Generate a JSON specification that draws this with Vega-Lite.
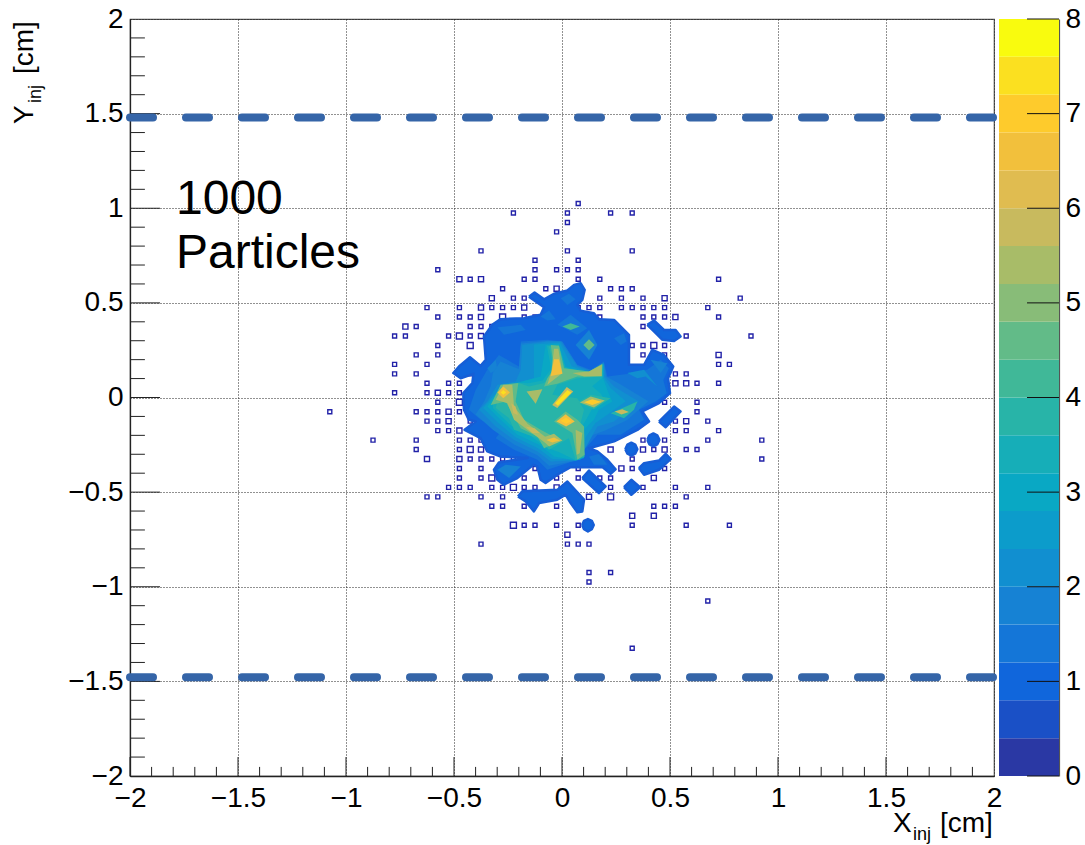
{"$schema":"https://vega.github.io/schema/vega-lite/v6.json","padding":{"left":10,"top":4,"right":0,"bottom":0},"background":"white","spacing":5,"bounds":"flush","config":{"font":"Liberation Sans","view":{"stroke":"#555","strokeWidth":1.2}},
"datasets":{
"xticks":[{"x":-2,"y":-2,"y2":-1.9},{"x":-1.9,"y":-2,"y2":-1.952},{"x":-1.8,"y":-2,"y2":-1.952},{"x":-1.7,"y":-2,"y2":-1.952},{"x":-1.6,"y":-2,"y2":-1.952},{"x":-1.5,"y":-2,"y2":-1.9},{"x":-1.4,"y":-2,"y2":-1.952},{"x":-1.3,"y":-2,"y2":-1.952},{"x":-1.2,"y":-2,"y2":-1.952},{"x":-1.1,"y":-2,"y2":-1.952},{"x":-1,"y":-2,"y2":-1.9},{"x":-0.9,"y":-2,"y2":-1.952},{"x":-0.8,"y":-2,"y2":-1.952},{"x":-0.7,"y":-2,"y2":-1.952},{"x":-0.6,"y":-2,"y2":-1.952},{"x":-0.5,"y":-2,"y2":-1.9},{"x":-0.4,"y":-2,"y2":-1.952},{"x":-0.3,"y":-2,"y2":-1.952},{"x":-0.2,"y":-2,"y2":-1.952},{"x":-0.1,"y":-2,"y2":-1.952},{"x":0,"y":-2,"y2":-1.9},{"x":0.1,"y":-2,"y2":-1.952},{"x":0.2,"y":-2,"y2":-1.952},{"x":0.3,"y":-2,"y2":-1.952},{"x":0.4,"y":-2,"y2":-1.952},{"x":0.5,"y":-2,"y2":-1.9},{"x":0.6,"y":-2,"y2":-1.952},{"x":0.7,"y":-2,"y2":-1.952},{"x":0.8,"y":-2,"y2":-1.952},{"x":0.9,"y":-2,"y2":-1.952},{"x":1,"y":-2,"y2":-1.9},{"x":1.1,"y":-2,"y2":-1.952},{"x":1.2,"y":-2,"y2":-1.952},{"x":1.3,"y":-2,"y2":-1.952},{"x":1.4,"y":-2,"y2":-1.952},{"x":1.5,"y":-2,"y2":-1.9},{"x":1.6,"y":-2,"y2":-1.952},{"x":1.7,"y":-2,"y2":-1.952},{"x":1.8,"y":-2,"y2":-1.952},{"x":1.9,"y":-2,"y2":-1.952}],
"yticks":[{"y":-1.9,"x":-2,"x2":-1.931},{"y":-1.8,"x":-2,"x2":-1.931},{"y":-1.7,"x":-2,"x2":-1.931},{"y":-1.6,"x":-2,"x2":-1.931},{"y":-1.5,"x":-2,"x2":-1.861},{"y":-1.4,"x":-2,"x2":-1.931},{"y":-1.3,"x":-2,"x2":-1.931},{"y":-1.2,"x":-2,"x2":-1.931},{"y":-1.1,"x":-2,"x2":-1.931},{"y":-1,"x":-2,"x2":-1.861},{"y":-0.9,"x":-2,"x2":-1.931},{"y":-0.8,"x":-2,"x2":-1.931},{"y":-0.7,"x":-2,"x2":-1.931},{"y":-0.6,"x":-2,"x2":-1.931},{"y":-0.5,"x":-2,"x2":-1.861},{"y":-0.4,"x":-2,"x2":-1.931},{"y":-0.3,"x":-2,"x2":-1.931},{"y":-0.2,"x":-2,"x2":-1.931},{"y":-0.1,"x":-2,"x2":-1.931},{"y":0,"x":-2,"x2":-1.861},{"y":0.1,"x":-2,"x2":-1.931},{"y":0.2,"x":-2,"x2":-1.931},{"y":0.3,"x":-2,"x2":-1.931},{"y":0.4,"x":-2,"x2":-1.931},{"y":0.5,"x":-2,"x2":-1.861},{"y":0.6,"x":-2,"x2":-1.931},{"y":0.7,"x":-2,"x2":-1.931},{"y":0.8,"x":-2,"x2":-1.931},{"y":0.9,"x":-2,"x2":-1.931},{"y":1,"x":-2,"x2":-1.861},{"y":1.1,"x":-2,"x2":-1.931},{"y":1.2,"x":-2,"x2":-1.931},{"y":1.3,"x":-2,"x2":-1.931},{"y":1.4,"x":-2,"x2":-1.931},{"y":1.5,"x":-2,"x2":-1.861},{"y":1.6,"x":-2,"x2":-1.931},{"y":1.7,"x":-2,"x2":-1.931},{"y":1.8,"x":-2,"x2":-1.931},{"y":1.9,"x":-2,"x2":-1.931}],
"boxes":[
{"x":0.075,"y":1.025,"n":1},{"x":-0.225,"y":0.975,"n":1},{"x":0.025,"y":0.975,"n":1},{"x":0.225,"y":0.975,"n":1},{"x":0.325,"y":0.975,"n":1},{"x":0.025,"y":0.925,"n":1},{"x":-0.025,"y":0.875,"n":1},{"x":-0.375,"y":0.775,"n":1},{"x":0.025,"y":0.775,"n":1},{"x":0.325,"y":0.775,"n":1},{"x":-0.125,"y":0.725,"n":1},{"x":0.075,"y":0.725,"n":1},
{"x":-0.575,"y":0.675,"n":1},{"x":-0.125,"y":0.675,"n":1},{"x":-0.025,"y":0.675,"n":1},{"x":0.025,"y":0.675,"n":1},{"x":0.075,"y":0.675,"n":1},
{"x":-0.475,"y":0.625,"n":2},{"x":-0.425,"y":0.625,"n":1},{"x":-0.375,"y":0.625,"n":2},{"x":-0.175,"y":0.625,"n":1},{"x":-0.125,"y":0.625,"n":1},{"x":0.075,"y":0.625,"n":1},{"x":0.175,"y":0.625,"n":1},{"x":0.725,"y":0.625,"n":1},
{"x":-0.275,"y":0.575,"n":1},{"x":-0.075,"y":0.575,"n":1},{"x":-0.025,"y":0.575,"n":2},{"x":0.225,"y":0.575,"n":1},{"x":0.275,"y":0.575,"n":1},{"x":0.325,"y":0.575,"n":1},
{"x":-0.325,"y":0.525,"n":2},{"x":-0.225,"y":0.525,"n":1},{"x":-0.175,"y":0.525,"n":1},{"x":0.175,"y":0.525,"n":1},{"x":0.275,"y":0.525,"n":1},{"x":0.375,"y":0.525,"n":1},{"x":0.475,"y":0.525,"n":2},{"x":0.825,"y":0.525,"n":1},
{"x":-0.625,"y":0.475,"n":1},{"x":-0.475,"y":0.475,"n":1},{"x":-0.375,"y":0.475,"n":2},{"x":-0.325,"y":0.475,"n":1},{"x":-0.275,"y":0.475,"n":1},{"x":-0.225,"y":0.475,"n":1},{"x":-0.175,"y":0.475,"n":2},{"x":0.075,"y":0.475,"n":1},{"x":0.125,"y":0.475,"n":1},{"x":0.175,"y":0.475,"n":1},{"x":0.275,"y":0.475,"n":1},{"x":0.325,"y":0.475,"n":1},{"x":0.375,"y":0.475,"n":1},{"x":0.425,"y":0.475,"n":1},{"x":0.475,"y":0.475,"n":1},{"x":0.675,"y":0.475,"n":1},
{"x":-0.575,"y":0.425,"n":1},{"x":-0.475,"y":0.425,"n":1},{"x":-0.425,"y":0.425,"n":1},{"x":-0.375,"y":0.425,"n":2},{"x":-0.275,"y":0.425,"n":3},{"x":-0.175,"y":0.425,"n":1},{"x":-0.125,"y":0.425,"n":1},{"x":0.175,"y":0.425,"n":1},{"x":0.375,"y":0.425,"n":1},{"x":0.425,"y":0.425,"n":1},{"x":0.475,"y":0.425,"n":1},{"x":0.525,"y":0.425,"n":2},{"x":0.725,"y":0.425,"n":1},
{"x":-0.725,"y":0.375,"n":2},{"x":-0.675,"y":0.375,"n":1},{"x":-0.425,"y":0.375,"n":1},{"x":-0.375,"y":0.375,"n":1},{"x":-0.325,"y":0.375,"n":1},{"x":0.375,"y":0.375,"n":1},
{"x":-0.775,"y":0.325,"n":1},{"x":-0.725,"y":0.325,"n":1},{"x":-0.525,"y":0.325,"n":1},{"x":-0.475,"y":0.325,"n":3},{"x":-0.425,"y":0.325,"n":1},{"x":-0.375,"y":0.325,"n":2},{"x":0.575,"y":0.325,"n":1},{"x":0.875,"y":0.325,"n":1},
{"x":-0.575,"y":0.275,"n":1},{"x":-0.425,"y":0.275,"n":3},{"x":0.325,"y":0.275,"n":1},{"x":0.375,"y":0.275,"n":1},{"x":0.425,"y":0.275,"n":3},{"x":0.475,"y":0.275,"n":1},
{"x":-0.675,"y":0.225,"n":1},{"x":-0.575,"y":0.225,"n":1},{"x":0.375,"y":0.225,"n":1},{"x":0.475,"y":0.225,"n":1},{"x":0.725,"y":0.225,"n":2},
{"x":-0.775,"y":0.175,"n":1},{"x":-0.625,"y":0.175,"n":1},{"x":0.725,"y":0.175,"n":1},{"x":0.775,"y":0.175,"n":1},
{"x":-0.775,"y":0.125,"n":1},{"x":-0.675,"y":0.125,"n":1},{"x":-0.425,"y":0.125,"n":1},{"x":0.525,"y":0.125,"n":1},{"x":0.575,"y":0.125,"n":1},
{"x":-0.625,"y":0.075,"n":1},{"x":-0.525,"y":0.075,"n":1},{"x":-0.475,"y":0.075,"n":1},{"x":0.475,"y":0.075,"n":1},{"x":0.525,"y":0.075,"n":2},{"x":0.575,"y":0.075,"n":2},{"x":0.625,"y":0.075,"n":1},{"x":0.725,"y":0.075,"n":1},
{"x":-0.775,"y":0.025,"n":1},{"x":-0.625,"y":0.025,"n":1},{"x":-0.575,"y":0.025,"n":2},{"x":-0.525,"y":0.025,"n":1},{"x":-0.475,"y":0.025,"n":1},
{"x":-0.575,"y":-0.025,"n":1},{"x":-0.475,"y":-0.025,"n":3},{"x":0.475,"y":-0.025,"n":1},{"x":0.625,"y":-0.025,"n":1},
{"x":-1.075,"y":-0.075,"n":1},{"x":-0.675,"y":-0.075,"n":1},{"x":-0.625,"y":-0.075,"n":1},{"x":-0.575,"y":-0.075,"n":1},{"x":-0.525,"y":-0.075,"n":2},{"x":-0.475,"y":-0.075,"n":1},{"x":0.625,"y":-0.075,"n":1},
{"x":-0.625,"y":-0.125,"n":1},{"x":-0.575,"y":-0.125,"n":1},{"x":-0.525,"y":-0.125,"n":2},{"x":-0.425,"y":-0.125,"n":1},{"x":0.525,"y":-0.125,"n":1},{"x":0.575,"y":-0.125,"n":2},{"x":0.675,"y":-0.125,"n":1},
{"x":-0.575,"y":-0.175,"n":1},{"x":-0.525,"y":-0.175,"n":1},{"x":-0.475,"y":-0.175,"n":2},{"x":0.525,"y":-0.175,"n":1},{"x":0.575,"y":-0.175,"n":1},{"x":0.725,"y":-0.175,"n":1},
{"x":-0.875,"y":-0.225,"n":1},{"x":-0.675,"y":-0.225,"n":1},{"x":-0.475,"y":-0.225,"n":1},{"x":-0.425,"y":-0.225,"n":1},{"x":-0.375,"y":-0.225,"n":1},{"x":0.375,"y":-0.225,"n":1},{"x":0.475,"y":-0.225,"n":1},{"x":0.675,"y":-0.225,"n":1},{"x":0.925,"y":-0.225,"n":1},
{"x":-0.675,"y":-0.275,"n":1},{"x":-0.475,"y":-0.275,"n":1},{"x":-0.425,"y":-0.275,"n":3},{"x":-0.375,"y":-0.275,"n":2},{"x":0.125,"y":-0.275,"n":1},{"x":0.225,"y":-0.275,"n":2},{"x":0.375,"y":-0.275,"n":2},{"x":0.425,"y":-0.275,"n":1},{"x":0.475,"y":-0.275,"n":2},{"x":0.575,"y":-0.275,"n":1},{"x":0.625,"y":-0.275,"n":1},
{"x":-0.625,"y":-0.325,"n":2},{"x":-0.475,"y":-0.325,"n":2},{"x":-0.425,"y":-0.325,"n":1},{"x":-0.375,"y":-0.325,"n":1},{"x":-0.325,"y":-0.325,"n":1},{"x":-0.275,"y":-0.325,"n":1},{"x":-0.225,"y":-0.325,"n":1},{"x":0.325,"y":-0.325,"n":1},{"x":0.925,"y":-0.325,"n":1},
{"x":-0.475,"y":-0.375,"n":1},{"x":-0.375,"y":-0.375,"n":1},{"x":-0.125,"y":-0.375,"n":1},{"x":0.075,"y":-0.375,"n":1},{"x":0.275,"y":-0.375,"n":2},{"x":0.325,"y":-0.375,"n":1},{"x":0.475,"y":-0.375,"n":1},
{"x":-0.475,"y":-0.425,"n":1},{"x":-0.375,"y":-0.425,"n":1},{"x":-0.325,"y":-0.425,"n":3},{"x":-0.175,"y":-0.425,"n":1},{"x":-0.025,"y":-0.425,"n":1},{"x":0.075,"y":-0.425,"n":1},{"x":0.175,"y":-0.425,"n":1},{"x":0.225,"y":-0.425,"n":1},{"x":0.425,"y":-0.425,"n":2},
{"x":-0.525,"y":-0.475,"n":1},{"x":-0.475,"y":-0.475,"n":1},{"x":-0.425,"y":-0.475,"n":1},{"x":-0.325,"y":-0.475,"n":1},{"x":-0.275,"y":-0.475,"n":1},{"x":-0.225,"y":-0.475,"n":3},{"x":-0.175,"y":-0.475,"n":1},{"x":-0.125,"y":-0.475,"n":1},{"x":-0.025,"y":-0.475,"n":2},{"x":0.225,"y":-0.475,"n":1},{"x":0.375,"y":-0.475,"n":1},{"x":0.525,"y":-0.475,"n":1},{"x":0.675,"y":-0.475,"n":1},
{"x":-0.625,"y":-0.525,"n":1},{"x":-0.575,"y":-0.525,"n":1},{"x":-0.375,"y":-0.525,"n":1},{"x":-0.275,"y":-0.525,"n":1},{"x":0.125,"y":-0.525,"n":2},{"x":0.225,"y":-0.525,"n":3},{"x":0.575,"y":-0.525,"n":1},
{"x":-0.325,"y":-0.575,"n":1},{"x":-0.275,"y":-0.575,"n":1},{"x":-0.175,"y":-0.575,"n":1},{"x":-0.025,"y":-0.575,"n":1},{"x":0.425,"y":-0.575,"n":1},{"x":0.475,"y":-0.575,"n":1},{"x":0.525,"y":-0.575,"n":1},
{"x":0.325,"y":-0.625,"n":2},{"x":0.425,"y":-0.625,"n":2},
{"x":-0.225,"y":-0.675,"n":3},{"x":-0.175,"y":-0.675,"n":1},{"x":-0.125,"y":-0.675,"n":1},{"x":-0.025,"y":-0.675,"n":1},{"x":0.075,"y":-0.675,"n":1},{"x":0.325,"y":-0.675,"n":1},{"x":0.575,"y":-0.675,"n":1},{"x":0.775,"y":-0.675,"n":1},
{"x":0.025,"y":-0.725,"n":2},{"x":-0.375,"y":-0.775,"n":1},{"x":0.025,"y":-0.775,"n":1},{"x":0.075,"y":-0.775,"n":1},{"x":0.125,"y":-0.775,"n":1},
{"x":0.125,"y":-0.925,"n":1},{"x":0.225,"y":-0.925,"n":1},{"x":0.125,"y":-0.975,"n":1},{"x":0.675,"y":-1.075,"n":1},{"x":0.325,"y":-1.325,"n":1}],
"sil":[
{"p":1,"x":-0.153,"y":0.533},{"p":1,"x":-0.127,"y":0.555},{"p":1,"x":-0.083,"y":0.519},{"p":1,"x":-0.037,"y":0.548},{"p":1,"x":0.025,"y":0.565},{"p":1,"x":0.056,"y":0.595},{"p":1,"x":0.086,"y":0.604},{"p":1,"x":0.105,"y":0.569},{"p":1,"x":0.094,"y":0.516},{"p":1,"x":0.071,"y":0.489},{"p":1,"x":0.086,"y":0.459},{"p":1,"x":0.148,"y":0.445},{"p":1,"x":0.171,"y":0.414},{"p":1,"x":0.241,"y":0.41},{"p":1,"x":0.31,"y":0.331},{"p":1,"x":0.31,"y":0.173},{"p":1,"x":0.38,"y":0.173},{"p":1,"x":0.418,"y":0.252},{"p":1,"x":0.472,"y":0.225},{"p":1,"x":0.515,"y":0.164},{"p":1,"x":0.491,"y":0.102},{"p":1,"x":0.5,"y":0.023},{"p":1,"x":0.449,"y":-0.03},{"p":1,"x":0.372,"y":-0.074},{"p":1,"x":0.403,"y":-0.127},{"p":1,"x":0.349,"y":-0.171},{"p":1,"x":0.241,"y":-0.232},{"p":1,"x":0.125,"y":-0.268},{"p":1,"x":0.164,"y":-0.285},{"p":1,"x":0.21,"y":-0.329},{"p":1,"x":0.248,"y":-0.379},{"p":1,"x":0.225,"y":-0.403},{"p":1,"x":0.187,"y":-0.368},{"p":1,"x":0.086,"y":-0.368},{"p":1,"x":0.04,"y":-0.368},{"p":1,"x":-0.022,"y":-0.408},{"p":1,"x":-0.076,"y":-0.452},{"p":1,"x":-0.099,"y":-0.435},{"p":1,"x":-0.114,"y":-0.364},{"p":1,"x":-0.133,"y":-0.356},{"p":1,"x":-0.207,"y":-0.426},{"p":1,"x":-0.269,"y":-0.461},{"p":1,"x":-0.299,"y":-0.435},{"p":1,"x":-0.315,"y":-0.382},{"p":1,"x":-0.292,"y":-0.343},{"p":1,"x":-0.16,"y":-0.32},{"p":1,"x":-0.284,"y":-0.312},{"p":1,"x":-0.346,"y":-0.285},{"p":1,"x":-0.377,"y":-0.215},{"p":1,"x":-0.451,"y":-0.171},{"p":1,"x":-0.4,"y":-0.127},{"p":1,"x":-0.431,"y":-0.118},{"p":1,"x":-0.454,"y":-0.065},{"p":1,"x":-0.457,"y":0.023},{"p":1,"x":-0.415,"y":0.076},{"p":1,"x":-0.41,"y":0.125},{"p":1,"x":-0.469,"y":0.102},{"p":1,"x":-0.503,"y":0.129},{"p":1,"x":-0.477,"y":0.164},{"p":1,"x":-0.426,"y":0.213},{"p":1,"x":-0.377,"y":0.167},{"p":1,"x":-0.353,"y":0.199},{"p":1,"x":-0.361,"y":0.322},{"p":1,"x":-0.323,"y":0.384},{"p":1,"x":-0.284,"y":0.414},{"p":1,"x":-0.176,"y":0.419},{"p":1,"x":-0.099,"y":0.437},{"p":1,"x":-0.083,"y":0.477},{"p":1,"x":-0.153,"y":0.533},
{"p":2,"x":0.395,"y":0.384},{"p":2,"x":0.426,"y":0.407},{"p":2,"x":0.472,"y":0.357},{"p":2,"x":0.526,"y":0.357},{"p":2,"x":0.549,"y":0.322},{"p":2,"x":0.519,"y":0.299},{"p":2,"x":0.465,"y":0.305},{"p":2,"x":0.434,"y":0.34},{"p":2,"x":0.395,"y":0.384},
{"p":3,"x":0.449,"y":-0.127},{"p":3,"x":0.519,"y":-0.048},{"p":3,"x":0.549,"y":-0.074},{"p":3,"x":0.48,"y":-0.157},{"p":3,"x":0.449,"y":-0.127},
{"p":4,"x":0.395,"y":-0.224},{"p":4,"x":0.405,"y":-0.2},{"p":4,"x":0.423,"y":-0.19},{"p":4,"x":0.441,"y":-0.2},{"p":4,"x":0.451,"y":-0.224},{"p":4,"x":0.441,"y":-0.248},{"p":4,"x":0.423,"y":-0.258},{"p":4,"x":0.405,"y":-0.248},{"p":4,"x":0.395,"y":-0.224},
{"p":5,"x":0.293,"y":-0.273},{"p":5,"x":0.303,"y":-0.249},{"p":5,"x":0.321,"y":-0.239},{"p":5,"x":0.339,"y":-0.249},{"p":5,"x":0.349,"y":-0.273},{"p":5,"x":0.339,"y":-0.297},{"p":5,"x":0.321,"y":-0.307},{"p":5,"x":0.303,"y":-0.297},{"p":5,"x":0.293,"y":-0.273},
{"p":6,"x":0.356,"y":-0.373},{"p":6,"x":0.38,"y":-0.347},{"p":6,"x":0.449,"y":-0.333},{"p":6,"x":0.48,"y":-0.298},{"p":6,"x":0.503,"y":-0.326},{"p":6,"x":0.449,"y":-0.382},{"p":6,"x":0.38,"y":-0.408},{"p":6,"x":0.356,"y":-0.373},
{"p":7,"x":0.287,"y":-0.474},{"p":7,"x":0.321,"y":-0.435},{"p":7,"x":0.361,"y":-0.474},{"p":7,"x":0.321,"y":-0.514},{"p":7,"x":0.287,"y":-0.474},
{"p":8,"x":0.094,"y":-0.426},{"p":8,"x":0.125,"y":-0.386},{"p":8,"x":0.202,"y":-0.47},{"p":8,"x":0.171,"y":-0.505},{"p":8,"x":0.094,"y":-0.426},
{"p":9,"x":-0.204,"y":-0.523},{"p":9,"x":-0.184,"y":-0.496},{"p":9,"x":-0.022,"y":-0.488},{"p":9,"x":0.025,"y":-0.444},{"p":9,"x":0.102,"y":-0.54},{"p":9,"x":0.094,"y":-0.602},{"p":9,"x":0.071,"y":-0.606},{"p":9,"x":0.04,"y":-0.558},{"p":9,"x":0.017,"y":-0.514},{"p":9,"x":-0.022,"y":-0.54},{"p":9,"x":-0.106,"y":-0.558},{"p":9,"x":-0.13,"y":-0.602},{"p":9,"x":-0.168,"y":-0.549},{"p":9,"x":-0.204,"y":-0.523},
{"p":10,"x":0.093,"y":-0.674},{"p":10,"x":0.102,"y":-0.652},{"p":10,"x":0.12,"y":-0.642},{"p":10,"x":0.138,"y":-0.652},{"p":10,"x":0.147,"y":-0.674},{"p":10,"x":0.138,"y":-0.696},{"p":10,"x":0.12,"y":-0.708},{"p":10,"x":0.102,"y":-0.696},{"p":10,"x":0.093,"y":-0.674}],
"blob":[
{"p":1,"lo":1.2,"x":-0.346,"y":0.146},{"p":1,"lo":1.2,"x":-0.292,"y":0.225},{"p":1,"lo":1.2,"x":-0.199,"y":0.164},{"p":1,"lo":1.2,"x":-0.191,"y":0.296},{"p":1,"lo":1.2,"x":-0.068,"y":0.305},{"p":1,"lo":1.2,"x":0.002,"y":0.296},{"p":1,"lo":1.2,"x":0.071,"y":0.173},{"p":1,"lo":1.2,"x":0.133,"y":0.146},{"p":1,"lo":1.2,"x":0.194,"y":0.19},{"p":1,"lo":1.2,"x":0.21,"y":0.111},{"p":1,"lo":1.2,"x":0.31,"y":0.125},{"p":1,"lo":1.2,"x":0.395,"y":0.146},{"p":1,"lo":1.2,"x":0.457,"y":0.199},{"p":1,"lo":1.2,"x":0.495,"y":0.155},{"p":1,"lo":1.2,"x":0.469,"y":0.093},{"p":1,"lo":1.2,"x":0.485,"y":0.023},{"p":1,"lo":1.2,"x":0.434,"y":-0.021},{"p":1,"lo":1.2,"x":0.356,"y":-0.065},{"p":1,"lo":1.2,"x":0.38,"y":-0.118},{"p":1,"lo":1.2,"x":0.272,"y":-0.197},{"p":1,"lo":1.2,"x":0.164,"y":-0.197},{"p":1,"lo":1.2,"x":0.117,"y":-0.259},{"p":1,"lo":1.2,"x":0.048,"y":-0.338},{"p":1,"lo":1.2,"x":-0.068,"y":-0.382},{"p":1,"lo":1.2,"x":-0.114,"y":-0.329},{"p":1,"lo":1.2,"x":-0.222,"y":-0.276},{"p":1,"lo":1.2,"x":-0.307,"y":-0.215},{"p":1,"lo":1.2,"x":-0.276,"y":-0.171},{"p":1,"lo":1.2,"x":-0.377,"y":-0.118},{"p":1,"lo":1.2,"x":-0.431,"y":-0.065},{"p":1,"lo":1.2,"x":-0.4,"y":0.04},
{"p":2,"lo":1.2,"x":-0.299,"y":0.371},{"p":2,"lo":1.2,"x":-0.191,"y":0.384},{"p":2,"lo":1.2,"x":-0.168,"y":0.357},{"p":2,"lo":1.2,"x":-0.269,"y":0.331},
{"p":3,"lo":1.2,"x":-0.099,"y":0.428},{"p":3,"lo":1.2,"x":-0.06,"y":0.46},{"p":3,"lo":1.2,"x":-0.029,"y":0.414},{"p":3,"lo":1.2,"x":-0.068,"y":0.407},
{"p":4,"lo":1.2,"x":-0.022,"y":0.384},{"p":4,"lo":1.2,"x":0.04,"y":0.437},{"p":4,"lo":1.2,"x":0.117,"y":0.366},{"p":4,"lo":1.2,"x":0.071,"y":0.331},
{"p":5,"lo":4,"x":0.002,"y":0.375},{"p":5,"lo":4,"x":0.04,"y":0.393},{"p":5,"lo":4,"x":0.082,"y":0.375},{"p":5,"lo":4,"x":0.04,"y":0.357},
{"p":6,"lo":1.6,"x":0.063,"y":0.278},{"p":6,"lo":1.6,"x":0.125,"y":0.357},{"p":6,"lo":1.6,"x":0.164,"y":0.278},{"p":6,"lo":1.6,"x":0.125,"y":0.199},
{"p":7,"lo":4.4,"x":0.099,"y":0.278},{"p":7,"lo":4.4,"x":0.125,"y":0.308},{"p":7,"lo":4.4,"x":0.151,"y":0.278},{"p":7,"lo":4.4,"x":0.125,"y":0.248},
{"p":8,"lo":1.2,"x":-0.006,"y":0.525},{"p":8,"lo":1.2,"x":0.032,"y":0.548},{"p":8,"lo":1.2,"x":0.063,"y":0.519},{"p":8,"lo":1.2,"x":0.025,"y":0.489},
{"p":9,"lo":1.2,"x":0.241,"y":0.313},{"p":9,"lo":1.2,"x":0.287,"y":0.34},{"p":9,"lo":1.2,"x":0.299,"y":0.296},{"p":9,"lo":1.2,"x":0.272,"y":0.278},
{"p":10,"lo":1.6,"x":-0.299,"y":-0.382},{"p":10,"lo":1.6,"x":-0.261,"y":-0.356},{"p":10,"lo":1.6,"x":-0.191,"y":-0.364},{"p":10,"lo":1.6,"x":-0.245,"y":-0.426},
{"p":11,"lo":1.6,"x":0.41,"y":0.199},{"p":11,"lo":1.6,"x":0.488,"y":0.181},{"p":11,"lo":1.6,"x":0.457,"y":0.129},
{"p":12,"lo":1.2,"x":0.125,"y":-0.312},{"p":12,"lo":1.2,"x":0.171,"y":-0.298},{"p":12,"lo":1.2,"x":0.21,"y":-0.356},{"p":12,"lo":1.2,"x":0.148,"y":-0.356},
{"p":13,"lo":1.6,"x":-0.346,"y":0.155},{"p":13,"lo":1.6,"x":-0.307,"y":0.199},{"p":13,"lo":1.6,"x":-0.299,"y":0.146},{"p":13,"lo":1.6,"x":-0.33,"y":0.129},
{"p":14,"lo":2,"x":0.302,"y":0.129},{"p":14,"lo":2,"x":0.38,"y":0.146},{"p":14,"lo":2,"x":0.441,"y":0.058},{"p":14,"lo":2,"x":0.387,"y":0.111},{"p":14,"lo":2,"x":0.349,"y":0.102},
{"p":50,"lo":1.6,"x":-0.32,"y":0.13},{"p":50,"lo":1.6,"x":-0.285,"y":0.19},{"p":50,"lo":1.6,"x":-0.2,"y":0.15},{"p":50,"lo":1.6,"x":-0.19,"y":0.285},{"p":50,"lo":1.6,"x":-0.068,"y":0.3},{"p":50,"lo":1.6,"x":0,"y":0.296},{"p":50,"lo":1.6,"x":0.071,"y":0.17},{"p":50,"lo":1.6,"x":0.133,"y":0.142},{"p":50,"lo":1.6,"x":0.194,"y":0.185},{"p":50,"lo":1.6,"x":0.205,"y":0.111},{"p":50,"lo":1.6,"x":0.27,"y":0.07},{"p":50,"lo":1.6,"x":0.4,"y":-0.02},{"p":50,"lo":1.6,"x":0.3,"y":-0.12},{"p":50,"lo":1.6,"x":0.2,"y":-0.175},{"p":50,"lo":1.6,"x":0.14,"y":-0.2},{"p":50,"lo":1.6,"x":0.09,"y":-0.29},{"p":50,"lo":1.6,"x":0.06,"y":-0.335},{"p":50,"lo":1.6,"x":-0.06,"y":-0.36},{"p":50,"lo":1.6,"x":-0.114,"y":-0.305},{"p":50,"lo":1.6,"x":-0.22,"y":-0.25},{"p":50,"lo":1.6,"x":-0.32,"y":-0.17},{"p":50,"lo":1.6,"x":-0.4,"y":-0.09},{"p":50,"lo":1.6,"x":-0.36,"y":-0.02},{"p":50,"lo":1.6,"x":-0.33,"y":0.06},
{"p":15,"lo":2,"x":-0.184,"y":0.278},{"p":15,"lo":2,"x":-0.068,"y":0.296},{"p":15,"lo":2,"x":-0.006,"y":0.296},{"p":15,"lo":2,"x":0.071,"y":0.164},{"p":15,"lo":2,"x":0.133,"y":0.137},{"p":15,"lo":2,"x":0.194,"y":0.181},{"p":15,"lo":2,"x":0.198,"y":0.111},{"p":15,"lo":2,"x":0.241,"y":0.058},{"p":15,"lo":2,"x":0.356,"y":-0.021},{"p":15,"lo":2,"x":0.241,"y":-0.127},{"p":15,"lo":2,"x":0.164,"y":-0.153},{"p":15,"lo":2,"x":0.117,"y":-0.25},{"p":15,"lo":2,"x":0.071,"y":-0.333},{"p":15,"lo":2,"x":-0.052,"y":-0.338},{"p":15,"lo":2,"x":-0.114,"y":-0.285},{"p":15,"lo":2,"x":-0.222,"y":-0.224},{"p":15,"lo":2,"x":-0.307,"y":-0.153},{"p":15,"lo":2,"x":-0.384,"y":-0.065},{"p":15,"lo":2,"x":-0.346,"y":-0.021},{"p":15,"lo":2,"x":-0.299,"y":0.067},{"p":15,"lo":2,"x":-0.215,"y":0.085},{"p":15,"lo":2,"x":-0.191,"y":0.146},
{"p":51,"lo":2.4,"x":-0.13,"y":0.28},{"p":51,"lo":2.4,"x":-0.01,"y":0.29},{"p":51,"lo":2.4,"x":0.045,"y":0.165},{"p":51,"lo":2.4,"x":0.125,"y":0.133},{"p":51,"lo":2.4,"x":0.192,"y":0.177},{"p":51,"lo":2.4,"x":0.195,"y":0.105},{"p":51,"lo":2.4,"x":0.225,"y":0.05},{"p":51,"lo":2.4,"x":0.295,"y":-0.02},{"p":51,"lo":2.4,"x":0.205,"y":-0.095},{"p":51,"lo":2.4,"x":0.155,"y":-0.135},{"p":51,"lo":2.4,"x":0.11,"y":-0.21},{"p":51,"lo":2.4,"x":0.085,"y":-0.33},{"p":51,"lo":2.4,"x":-0.045,"y":-0.325},{"p":51,"lo":2.4,"x":-0.11,"y":-0.27},{"p":51,"lo":2.4,"x":-0.215,"y":-0.21},{"p":51,"lo":2.4,"x":-0.295,"y":-0.135},{"p":51,"lo":2.4,"x":-0.365,"y":-0.056},{"p":51,"lo":2.4,"x":-0.32,"y":0.005},{"p":51,"lo":2.4,"x":-0.25,"y":0.07},{"p":51,"lo":2.4,"x":-0.19,"y":0.085},{"p":51,"lo":2.4,"x":-0.13,"y":0.1},
{"p":16,"lo":2.8,"x":-0.076,"y":0.278},{"p":16,"lo":2.8,"x":-0.014,"y":0.283},{"p":16,"lo":2.8,"x":0.017,"y":0.164},{"p":16,"lo":2.8,"x":0.117,"y":0.129},{"p":16,"lo":2.8,"x":0.191,"y":0.173},{"p":16,"lo":2.8,"x":0.191,"y":0.102},{"p":16,"lo":2.8,"x":0.21,"y":0.04},{"p":16,"lo":2.8,"x":0.233,"y":-0.021},{"p":16,"lo":2.8,"x":0.171,"y":-0.065},{"p":16,"lo":2.8,"x":0.148,"y":-0.118},{"p":16,"lo":2.8,"x":0.102,"y":-0.171},{"p":16,"lo":2.8,"x":0.102,"y":-0.32},{"p":16,"lo":2.8,"x":0.063,"y":-0.333},{"p":16,"lo":2.8,"x":-0.037,"y":-0.312},{"p":16,"lo":2.8,"x":-0.106,"y":-0.25},{"p":16,"lo":2.8,"x":-0.207,"y":-0.197},{"p":16,"lo":2.8,"x":-0.284,"y":-0.118},{"p":16,"lo":2.8,"x":-0.346,"y":-0.048},{"p":16,"lo":2.8,"x":-0.299,"y":0.032},{"p":16,"lo":2.8,"x":-0.207,"y":0.076},{"p":16,"lo":2.8,"x":-0.16,"y":0.093},{"p":16,"lo":2.8,"x":-0.099,"y":0.111},
{"p":52,"lo":3.2,"x":-0.32,"y":-0.035},{"p":52,"lo":3.2,"x":-0.29,"y":0.036},{"p":52,"lo":3.2,"x":-0.2,"y":0.078},{"p":52,"lo":3.2,"x":-0.155,"y":0.075},{"p":52,"lo":3.2,"x":-0.09,"y":0.09},{"p":52,"lo":3.2,"x":-0.05,"y":0.15},{"p":52,"lo":3.2,"x":-0.07,"y":0.274},{"p":52,"lo":3.2,"x":-0.014,"y":0.278},{"p":52,"lo":3.2,"x":0.015,"y":0.16},{"p":52,"lo":3.2,"x":0.118,"y":0.13},{"p":52,"lo":3.2,"x":0.189,"y":0.173},{"p":52,"lo":3.2,"x":0.189,"y":0.106},{"p":52,"lo":3.2,"x":0.14,"y":0.06},{"p":52,"lo":3.2,"x":0.18,"y":0.02},{"p":52,"lo":3.2,"x":0.2,"y":-0.02},{"p":52,"lo":3.2,"x":0.14,"y":-0.06},{"p":52,"lo":3.2,"x":0.095,"y":-0.15},{"p":52,"lo":3.2,"x":0.103,"y":-0.315},{"p":52,"lo":3.2,"x":0.063,"y":-0.331},{"p":52,"lo":3.2,"x":-0.01,"y":-0.29},{"p":52,"lo":3.2,"x":-0.08,"y":-0.26},{"p":52,"lo":3.2,"x":-0.16,"y":-0.19},{"p":52,"lo":3.2,"x":-0.24,"y":-0.145},{"p":52,"lo":3.2,"x":-0.32,"y":-0.055},
{"p":17,"lo":3.6,"x":-0.299,"y":-0.021},{"p":17,"lo":3.6,"x":-0.276,"y":0.04},{"p":17,"lo":3.6,"x":-0.199,"y":0.076},{"p":17,"lo":3.6,"x":-0.153,"y":0.058},{"p":17,"lo":3.6,"x":-0.083,"y":0.076},{"p":17,"lo":3.6,"x":-0.037,"y":0.146},{"p":17,"lo":3.6,"x":-0.06,"y":0.269},{"p":17,"lo":3.6,"x":-0.014,"y":0.273},{"p":17,"lo":3.6,"x":0.012,"y":0.155},{"p":17,"lo":3.6,"x":0.12,"y":0.132},{"p":17,"lo":3.6,"x":0.187,"y":0.173},{"p":17,"lo":3.6,"x":0.187,"y":0.111},{"p":17,"lo":3.6,"x":0.071,"y":0.102},{"p":17,"lo":3.6,"x":-0.022,"y":0.067},{"p":17,"lo":3.6,"x":-0.045,"y":0.014},{"p":17,"lo":3.6,"x":0.071,"y":-0.004},{"p":17,"lo":3.6,"x":0.102,"y":-0.065},{"p":17,"lo":3.6,"x":0.086,"y":-0.136},{"p":17,"lo":3.6,"x":0.105,"y":-0.312},{"p":17,"lo":3.6,"x":0.063,"y":-0.329},{"p":17,"lo":3.6,"x":0.032,"y":-0.215},{"p":17,"lo":3.6,"x":-0.06,"y":-0.276},{"p":17,"lo":3.6,"x":-0.114,"y":-0.215},{"p":17,"lo":3.6,"x":-0.222,"y":-0.171},{"p":17,"lo":3.6,"x":-0.245,"y":-0.109},{"p":17,"lo":3.6,"x":-0.307,"y":-0.056},
{"p":18,"lo":3.6,"x":0.225,"y":-0.083},{"p":18,"lo":3.6,"x":0.349,"y":-0.021},{"p":18,"lo":3.6,"x":0.333,"y":-0.065},{"p":18,"lo":3.6,"x":0.287,"y":-0.109},
{"p":19,"lo":5.6,"x":0.244,"y":-0.074},{"p":19,"lo":5.6,"x":0.279,"y":-0.062},{"p":19,"lo":5.6,"x":0.31,"y":-0.077},{"p":19,"lo":5.6,"x":0.275,"y":-0.09},
{"p":20,"lo":3.6,"x":0.071,"y":-0.026},{"p":20,"lo":3.6,"x":0.133,"y":0.014},{"p":20,"lo":3.6,"x":0.225,"y":-0.004},{"p":20,"lo":3.6,"x":0.148,"y":-0.062},
{"p":21,"lo":4.4,"x":-0.052,"y":0.278},{"p":21,"lo":4.4,"x":-0.014,"y":0.273},{"p":21,"lo":4.4,"x":0.009,"y":0.155},{"p":21,"lo":4.4,"x":0.125,"y":0.137},{"p":21,"lo":4.4,"x":0.187,"y":0.178},{"p":21,"lo":4.4,"x":0.184,"y":0.111},{"p":21,"lo":4.4,"x":0.071,"y":0.111},{"p":21,"lo":4.4,"x":-0.022,"y":0.072},{"p":21,"lo":4.4,"x":-0.083,"y":0.058},{"p":21,"lo":4.4,"x":-0.068,"y":0.102},{"p":21,"lo":4.4,"x":-0.037,"y":0.155},
{"p":22,"lo":5.2,"x":0.048,"y":0.129},{"p":22,"lo":5.2,"x":0.125,"y":0.137},{"p":22,"lo":5.2,"x":0.184,"y":0.173},{"p":22,"lo":5.2,"x":0.184,"y":0.114},{"p":22,"lo":5.2,"x":0.102,"y":0.111},
{"p":23,"lo":5.2,"x":-0.037,"y":0.257},{"p":23,"lo":5.2,"x":-0.017,"y":0.257},{"p":23,"lo":5.2,"x":0.002,"y":0.129},{"p":23,"lo":5.2,"x":-0.068,"y":0.067},{"p":23,"lo":5.2,"x":-0.049,"y":0.137},
{"p":24,"lo":6.4,"x":-0.037,"y":0.202},{"p":24,"lo":6.4,"x":-0.014,"y":0.202},{"p":24,"lo":6.4,"x":0.002,"y":0.125},{"p":24,"lo":6.4,"x":-0.052,"y":0.114},
{"p":25,"lo":4.4,"x":-0.33,"y":-0.039},{"p":25,"lo":4.4,"x":-0.284,"y":0.067},{"p":25,"lo":4.4,"x":-0.202,"y":0.076},{"p":25,"lo":4.4,"x":-0.215,"y":-0.021},{"p":25,"lo":4.4,"x":-0.176,"y":-0.118},{"p":25,"lo":4.4,"x":-0.099,"y":-0.171},{"p":25,"lo":4.4,"x":-0.006,"y":-0.227},{"p":25,"lo":4.4,"x":-0.083,"y":-0.268},{"p":25,"lo":4.4,"x":-0.114,"y":-0.206},{"p":25,"lo":4.4,"x":-0.191,"y":-0.162},{"p":25,"lo":4.4,"x":-0.23,"y":-0.083},{"p":25,"lo":4.4,"x":-0.261,"y":-0.021},
{"p":26,"lo":5.2,"x":-0.307,"y":-0.012},{"p":26,"lo":5.2,"x":-0.272,"y":0.067},{"p":26,"lo":5.2,"x":-0.23,"y":0.067},{"p":26,"lo":5.2,"x":-0.222,"y":-0.048},{"p":26,"lo":5.2,"x":-0.16,"y":-0.139},{"p":26,"lo":5.2,"x":-0.068,"y":-0.215},{"p":26,"lo":5.2,"x":-0.076,"y":-0.241},{"p":26,"lo":5.2,"x":-0.16,"y":-0.171},{"p":26,"lo":5.2,"x":-0.222,"y":-0.118},{"p":26,"lo":5.2,"x":-0.253,"y":-0.03},
{"p":27,"lo":6.4,"x":-0.299,"y":0.026},{"p":27,"lo":6.4,"x":-0.272,"y":0.058},{"p":27,"lo":6.4,"x":-0.241,"y":0.026},{"p":27,"lo":6.4,"x":-0.272,"y":-0.004},
{"p":28,"lo":7.2,"x":-0.284,"y":0.026},{"p":28,"lo":7.2,"x":-0.272,"y":0.04},{"p":28,"lo":7.2,"x":-0.258,"y":0.026},{"p":28,"lo":7.2,"x":-0.272,"y":0.014},
{"p":29,"lo":5.6,"x":-0.235,"y":-0.03},{"p":29,"lo":5.6,"x":-0.215,"y":-0.048},{"p":29,"lo":5.6,"x":-0.204,"y":-0.092},{"p":29,"lo":5.6,"x":-0.225,"y":-0.083},
{"p":30,"lo":5.6,"x":-0.168,"y":-0.153},{"p":30,"lo":5.6,"x":-0.127,"y":-0.162},{"p":30,"lo":5.6,"x":-0.102,"y":-0.188},{"p":30,"lo":5.6,"x":-0.137,"y":-0.188},
{"p":31,"lo":5.2,"x":-0.099,"y":-0.215},{"p":31,"lo":5.2,"x":-0.037,"y":-0.192},{"p":31,"lo":5.2,"x":0.002,"y":-0.227},{"p":31,"lo":5.2,"x":-0.06,"y":-0.259},
{"p":32,"lo":6.4,"x":-0.073,"y":-0.225},{"p":32,"lo":6.4,"x":-0.037,"y":-0.211},{"p":32,"lo":6.4,"x":-0.009,"y":-0.227},{"p":32,"lo":6.4,"x":-0.045,"y":-0.238},
{"p":33,"lo":5.2,"x":-0.164,"y":0.032},{"p":33,"lo":5.2,"x":-0.091,"y":0.044},{"p":33,"lo":5.2,"x":-0.122,"y":-0.033},
{"p":34,"lo":5.6,"x":-0.045,"y":-0.039},{"p":34,"lo":5.6,"x":0.022,"y":0.055},{"p":34,"lo":5.6,"x":0.052,"y":0.032},{"p":34,"lo":5.6,"x":-0.022,"y":-0.056},
{"p":35,"lo":7.2,"x":-0.032,"y":-0.03},{"p":35,"lo":7.2,"x":0.025,"y":0.04},{"p":35,"lo":7.2,"x":0.043,"y":0.026},{"p":35,"lo":7.2,"x":-0.019,"y":-0.044},
{"p":36,"lo":5.2,"x":0.083,"y":-0.026},{"p":36,"lo":5.2,"x":0.133,"y":0.005},{"p":36,"lo":5.2,"x":0.198,"y":-0.016},{"p":36,"lo":5.2,"x":0.148,"y":-0.053},
{"p":37,"lo":6.8,"x":0.102,"y":-0.025},{"p":37,"lo":6.8,"x":0.14,"y":-0.009},{"p":37,"lo":6.8,"x":0.182,"y":-0.023},{"p":37,"lo":6.8,"x":0.14,"y":-0.04},
{"p":38,"lo":4.4,"x":-0.037,"y":-0.127},{"p":38,"lo":4.4,"x":0.017,"y":-0.074},{"p":38,"lo":4.4,"x":0.071,"y":-0.118},{"p":38,"lo":4.4,"x":0.102,"y":-0.153},{"p":38,"lo":4.4,"x":0.105,"y":-0.303},{"p":38,"lo":4.4,"x":0.071,"y":-0.329},{"p":38,"lo":4.4,"x":0.048,"y":-0.188},
{"p":39,"lo":5.2,"x":0.063,"y":-0.171},{"p":39,"lo":5.2,"x":0.094,"y":-0.188},{"p":39,"lo":5.2,"x":0.082,"y":-0.294},{"p":39,"lo":5.2,"x":0.068,"y":-0.303},
{"p":40,"lo":6.4,"x":-0.026,"y":-0.127},{"p":40,"lo":6.4,"x":0.017,"y":-0.088},{"p":40,"lo":6.4,"x":0.059,"y":-0.127},{"p":40,"lo":6.4,"x":0.019,"y":-0.153},
{"p":41,"lo":6.8,"x":-0.006,"y":-0.123},{"p":41,"lo":6.8,"x":0.019,"y":-0.106},{"p":41,"lo":6.8,"x":0.043,"y":-0.127},{"p":41,"lo":6.8,"x":0.019,"y":-0.139}]
},
"hconcat":[
{"width":864,"height":757,
"encoding":{
"x":{"field":"x","type":"quantitative","scale":{"domain":[-2,2],"nice":false,"zero":false},"axis":{"title":null,"values":[-2,-1.5,-1,-0.5,0,0.5,1,1.5,2],"format":"~g","ticks":false,"grid":true,"gridDash":[1,2],"gridColor":"#222","gridWidth":1,"domainColor":"#222","domainWidth":1.3,"labelFontSize":28,"labelColor":"#000","labelPadding":8,"labelOverlap":false,"labelFlush":false,"labelBound":false}},
"y":{"field":"y","type":"quantitative","scale":{"domain":[-2,2],"nice":false,"zero":false},"axis":{"title":null,"values":[-2,-1.5,-1,-0.5,0,0.5,1,1.5,2],"format":"~g","ticks":false,"grid":true,"gridDash":[1,2],"gridColor":"#222","gridWidth":1,"domainColor":"#222","domainWidth":1.3,"labelFontSize":28,"labelColor":"#000","labelPadding":7,"labelOverlap":false,"labelFlush":false,"labelBound":false}}
},
"layer":[
{"data":{"name":"xticks"},"mark":{"type":"rule","color":"#222","strokeWidth":1},"encoding":{"y2":{"field":"y2"}}},
{"data":{"name":"yticks"},"mark":{"type":"rule","color":"#222","strokeWidth":1},"encoding":{"x2":{"field":"x2"}}},
{"data":{"name":"boxes"},"mark":{"type":"point","shape":"square","filled":false,"stroke":"#2222a8","strokeWidth":1.4,"opacity":1},"encoding":{"size":{"field":"n","type":"ordinal","scale":{"domain":[1,2,3],"range":[16,36,85]},"legend":null}}},
{"data":{"name":"sil"},"mark":{"type":"line","fill":"#1066dc","stroke":"#165ed6","strokeWidth":2.5,"strokeJoin":"round"},"encoding":{"detail":{"field":"p"},"order":{"value":null}}},
{"data":{"name":"blob"},"mark":{"type":"line","strokeWidth":0},"encoding":{"detail":{"field":"p"},"order":{"value":null},"fill":{"field":"lo","type":"ordinal","legend":null,"scale":{"domain":[0,0.4,0.8,1.2,1.6,2,2.4,2.8,3.2,3.6,4,4.4,4.8,5.2,5.6,6,6.4,6.8,7.2,7.6],"range":["#2a38a4","#1a50c6","#1066dc","#1476d8","#1682d4","#118fd0","#0c9ccb","#09a8c4","#16aeb8","#28b4a8","#40b898","#62bb88","#88bc78","#a8bc68","#c8ba5e","#e0bc50","#f2c03c","#fecb2c","#fbe020","#f9fb0e"]}}}},
{"data":{"values":[{"x":-2,"x2":2,"y":1.48},{"x":-2,"x2":2,"y":-1.478}]},"mark":{"type":"rule","color":"#3565a8","strokeWidth":8,"strokeCap":"round","strokeDash":[23,33]},"encoding":{"x2":{"field":"x2"}}},
{"data":{"values":[{"x":-1.787,"y":0.97,"t":"1000"},{"x":-1.787,"y":0.685,"t":"Particles"}]},"mark":{"type":"text","fontSize":48,"align":"left","baseline":"alphabetic","color":"#000"},"encoding":{"text":{"field":"t"}}},
{"data":{"values":[{"x":1.532,"y":-2.296,"t":"X"},{"x":1.75,"y":-2.296,"t":"[cm]"}]},"mark":{"type":"text","fontSize":28,"align":"left","baseline":"alphabetic","color":"#000"},"encoding":{"text":{"field":"t"}}},
{"data":{"values":[{"x":1.625,"y":-2.338,"t":"inj"}]},"mark":{"type":"text","fontSize":18,"align":"left","baseline":"alphabetic","color":"#000"},"encoding":{"text":{"field":"t"}}},
{"data":{"values":[{"x":-2.449,"y":1.445,"t":"Y"},{"x":-2.449,"y":1.709,"t":"[cm]"}]},"mark":{"type":"text","fontSize":28,"angle":270,"align":"left","baseline":"alphabetic","color":"#000"},"encoding":{"text":{"field":"t"}}},
{"data":{"values":[{"x":-2.412,"y":1.556,"t":"inj"}]},"mark":{"type":"text","fontSize":18,"angle":270,"align":"left","baseline":"alphabetic","color":"#000"},"encoding":{"text":{"field":"t"}}}
]},
{"width":60,"height":757,"view":{"stroke":null},
"encoding":{
"y":{"field":"lo","type":"quantitative","scale":{"domain":[0,8],"nice":false,"zero":false},"axis":{"title":null,"orient":"right","values":[0,1,2,3,4,5,6,7,8],"ticks":false,"grid":false,"domainColor":"#555","domainWidth":1.2,"labelFontSize":28,"labelColor":"#000","labelPadding":6,"labelOverlap":false,"labelFlush":false,"labelBound":false}}
},
"layer":[
{"data":{"values":[{"lo":0,"hi":0.4},{"lo":0.4,"hi":0.8},{"lo":0.8,"hi":1.2},{"lo":1.2,"hi":1.6},{"lo":1.6,"hi":2},{"lo":2,"hi":2.4},{"lo":2.4,"hi":2.8},{"lo":2.8,"hi":3.2},{"lo":3.2,"hi":3.6},{"lo":3.6,"hi":4},{"lo":4,"hi":4.4},{"lo":4.4,"hi":4.8},{"lo":4.8,"hi":5.2},{"lo":5.2,"hi":5.6},{"lo":5.6,"hi":6},{"lo":6,"hi":6.4},{"lo":6.4,"hi":6.8},{"lo":6.8,"hi":7.2},{"lo":7.2,"hi":7.6},{"lo":7.6,"hi":8}]},"mark":{"type":"rect","strokeWidth":0},"encoding":{"x":{"datum":0,"type":"quantitative","scale":{"domain":[0,1],"nice":false,"zero":false},"axis":null},"x2":{"datum":1},"y2":{"field":"hi"},"fill":{"field":"lo","type":"ordinal","legend":null,"scale":{"domain":[0,0.4,0.8,1.2,1.6,2,2.4,2.8,3.2,3.6,4,4.4,4.8,5.2,5.6,6,6.4,6.8,7.2,7.6],"range":["#2a38a4","#1a50c6","#1066dc","#1476d8","#1682d4","#118fd0","#0c9ccb","#09a8c4","#16aeb8","#28b4a8","#40b898","#62bb88","#88bc78","#a8bc68","#c8ba5e","#e0bc50","#f2c03c","#fecb2c","#fbe020","#f9fb0e"]}}}},
{"data":{"values":[{"lo":0},{"lo":1},{"lo":2},{"lo":3},{"lo":4},{"lo":5},{"lo":6},{"lo":7},{"lo":8}]},"mark":{"type":"rule","color":"#111","strokeWidth":1},"encoding":{"x":{"datum":0.467,"type":"quantitative","scale":{"domain":[0,1],"nice":false,"zero":false},"axis":null},"x2":{"datum":1}}}
]}
]}
